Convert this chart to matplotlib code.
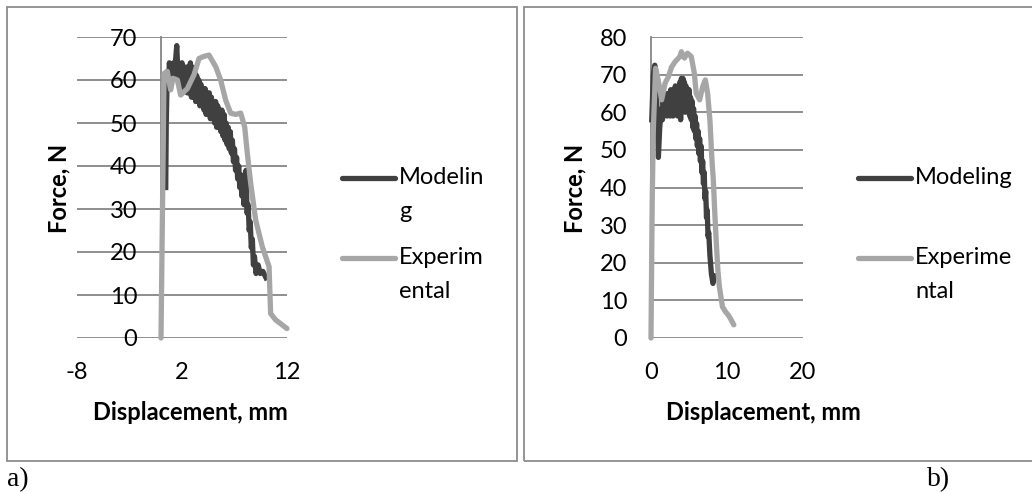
import matplotlib
matplotlib.use('Agg')
import matplotlib.pyplot as plt
from matplotlib.lines import Line2D
from matplotlib.patches import Rectangle

plt.rcParams['font.family'] = ['Lato', 'DejaVu Sans']
plt.rcParams['axes.unicode_minus'] = False

# chart a) values (the modeling curve is noisy, so it zigzags)
mod_a_x = [0.45, 0.5, 0.6, 0.7, 0.8, 0.9, 1.0, 1.1, 1.2, 1.3, 1.4, 1.5, 1.6, 1.7, 1.8,
           1.9, 2.0, 2.1, 2.2, 2.3, 2.4, 2.5, 2.6, 2.7, 2.8, 2.9, 3.0, 3.1, 3.2, 3.3,
           3.4, 3.5, 3.6, 3.7, 3.8, 3.9, 4.0, 4.1, 4.2, 4.3, 4.4, 4.5, 4.6, 4.7, 4.8,
           4.9, 5.0, 5.1, 5.2, 5.3, 5.4, 5.5, 5.6, 5.7, 5.8, 5.9, 6.0, 6.1, 6.2, 6.3,
           6.4, 6.5, 6.6, 6.7, 6.8, 6.9, 7.0, 7.1, 7.2, 7.3, 7.4, 7.5, 7.6, 7.7, 7.8,
           7.9, 8.0, 8.1, 8.2, 8.3, 8.4, 8.5, 8.6, 8.7, 8.8, 8.9, 9.05, 9.25, 9.45,
           9.7, 10.0]
mod_a_y = [35, 50, 62, 58, 64, 60, 63, 60, 64, 61, 65, 68, 62, 64, 59,
           58, 64, 59, 63, 58, 63, 57, 63, 57, 64, 56, 63, 56, 62, 55,
           61, 55, 60, 54, 59, 54, 58, 53, 58, 52, 57, 52, 57, 51, 56,
           51, 55, 50, 55, 49, 54, 49, 53, 48, 53, 47, 52, 46, 50, 45,
           49, 44, 48, 43, 46, 41, 44, 39, 42, 37, 40, 35, 38, 33, 36,
           31, 36, 39, 29, 31, 25, 27, 21, 23, 17, 19, 15, 17, 15,
           15.5, 14]
exp_a_x = [0.0, 0.29, 0.6, 0.92, 1.14, 1.56, 1.87, 2.51, 3.14, 3.62, 4.10, 4.57, 5.21,
           5.68, 6.16, 6.63, 7.11, 7.59, 7.97, 8.22, 8.54, 9.02, 9.65, 10.29, 10.44,
           10.92, 12.0]
exp_a_y = [0, 61.5, 62, 57.7, 60.4, 60, 56.5, 58, 61.2, 65, 65.5, 65.8, 63.1,
           60, 55.3, 52.3, 52, 52.3, 49.1, 43, 36, 27.4, 21.2, 16.6, 5.7, 4.2, 2.2]

# chart b) values
mod_b_x = [0.1, 0.3, 0.5, 0.7, 0.85, 0.97, 1.15, 1.3, 1.4, 1.5, 1.6, 1.7, 1.8, 1.9,
           2.0, 2.1, 2.2, 2.3, 2.4, 2.5, 2.6, 2.7, 2.8, 2.9, 3.0, 3.1, 3.2, 3.3, 3.4,
           3.5, 3.6, 3.7, 3.8, 3.9, 4.0, 4.1, 4.2, 4.3, 4.4, 4.5, 4.6, 4.7, 4.8, 4.9,
           5.0, 5.1, 5.2, 5.3, 5.4, 5.5, 5.6, 5.7, 5.8, 5.9, 6.0, 6.1, 6.2, 6.3, 6.4,
           6.5, 6.6, 6.7, 6.8, 6.9, 7.0, 7.1, 7.2, 7.3, 7.4, 7.5, 7.6, 7.75, 7.95,
           8.15, 8.4]
mod_b_y = [58, 70, 72.5, 67, 56, 48, 56, 60, 61, 58, 63, 59, 64, 60,
           64, 59, 65, 60, 64, 59, 66, 60, 65, 59, 66, 60, 67, 61, 66,
           59, 67, 60, 68, 58, 69, 61, 69, 62, 68, 60, 67, 61, 66, 60,
           66, 59, 64, 58, 63, 56, 61, 55, 59, 53, 57, 51, 55, 49, 53,
           47, 51, 44, 47, 41, 44, 37, 39, 32, 34, 27, 28, 22, 17,
           14.5, 16.5]
exp_b_x = [0.0, 0.15, 0.3, 0.6, 1.0, 1.4, 1.85, 2.3, 2.7, 3.2, 3.8, 4.0, 4.4, 4.8, 5.3,
           5.7, 5.95, 6.4, 6.8, 7.15, 7.45, 7.75, 8.0, 8.2, 8.4, 8.6, 8.8, 9.0, 9.4,
           9.8, 10.2, 10.5, 10.9]
exp_b_y = [0, 35, 55, 71.7, 68, 63.3, 67.7, 69.5, 72, 73.5, 74.8, 76.1, 74.4, 75.7, 74.8,
           70.4, 65, 63.3, 66.8, 68.6, 65, 58, 48, 42, 33, 25, 18, 13.6, 8.3,
           7, 6, 5, 3.5]

W, H = 1032, 492
dark = '#404040'
light = '#a6a6a6'
grid_c = '#868686'
fs = 17
lw = 3.8

fig = plt.figure(figsize=(W / 100, H / 100), dpi=100)


def px_axes(x0, x1, y0, y1):
    return fig.add_axes([x0 / W, (H - y1) / H, (x1 - x0) / W, (y1 - y0) / H])


def style(ax, xlim, ylim, xticks, yticks):
    ax.set_xlim(xlim)
    ax.set_ylim(ylim)
    ax.set_xticks(xticks)
    ax.set_yticks(yticks)
    ax.patch.set_alpha(0)
    for s in ['top', 'right', 'bottom']:
        ax.spines[s].set_visible(False)
    ax.spines['left'].set_position(('data', 0))
    ax.spines['left'].set_color(grid_c)
    ax.spines['left'].set_linewidth(1.3)
    ax.grid(axis='y', color=grid_c, linewidth=1.3)
    ax.set_axisbelow(True)
    ax.tick_params(axis='y', length=0, pad=17, labelsize=fs, colors='black')
    ax.tick_params(axis='x', length=0, pad=17, labelsize=fs, colors='black')


# a)
ax1 = px_axes(77, 287, 37, 338)
style(ax1, (-8, 12), (0, 70), [-8, 2, 12], range(0, 71, 10))
ax1.plot(mod_a_x, mod_a_y, color=dark, lw=lw, clip_on=False, zorder=3)
ax1.plot(exp_a_x, exp_a_y, color=light, lw=lw, clip_on=False, zorder=4,
         solid_capstyle='round')

# b)
ax2 = px_axes(651, 803, 37, 338)
style(ax2, (0, 20), (0, 80), [0, 10, 20], range(0, 81, 10))
ax2.plot(mod_b_x, mod_b_y, color=dark, lw=lw, clip_on=False, zorder=3)
ax2.plot(exp_b_x, exp_b_y, color=light, lw=lw, clip_on=False, zorder=4,
         solid_capstyle='round')

# axis titles
for cx, ycx in [(190, 59), (763, 575)]:
    fig.text(cx / W, 1 - 413 / H, 'Displacement, mm', ha='center', va='center',
             fontsize=fs, fontweight='bold')
    fig.text(ycx / W, 1 - 188 / H, 'Force, N', ha='center', va='center',
             fontsize=fs, fontweight='bold', rotation=90)

# legends (labels wrapped like the original)
leg = [(342, 395, 399, ['Modelin', 'g'], ['Experim', 'ental']),
       (858, 911, 915, ['Modeling'], ['Experime', 'ntal'])]
for x0, x1, tx, lab1, lab2 in leg:
    for yy, col, lines in [(178, dark, lab1), (258, light, lab2)]:
        fig.add_artist(Line2D([x0 / W, x1 / W], [1 - yy / H, 1 - yy / H],
                              color=col, lw=lw, solid_capstyle='round'))
        for i, t in enumerate(lines):
            fig.text(tx / W, 1 - (yy + i * 34) / H, t, ha='left', va='center',
                     fontsize=fs)

# frames around both charts
fig.add_artist(Rectangle((7 / W, 1 - 461 / H), 510 / W, 454 / H, fill=False,
                         edgecolor='#8c8c8c', lw=1.3, transform=fig.transFigure))
fig.add_artist(Rectangle((524 / W, 1 - 461 / H), 520 / W, 454 / H, fill=False,
                         edgecolor='#8c8c8c', lw=1.3, transform=fig.transFigure))

fig.text(7 / W, 1 - 486 / H, 'a)', family='Liberation Serif', fontsize=20,
         ha='left', va='baseline')
fig.text(927 / W, 1 - 486 / H, 'b)', family='Liberation Serif', fontsize=20,
         ha='left', va='baseline')

fig.savefig('out.png', dpi=100)
